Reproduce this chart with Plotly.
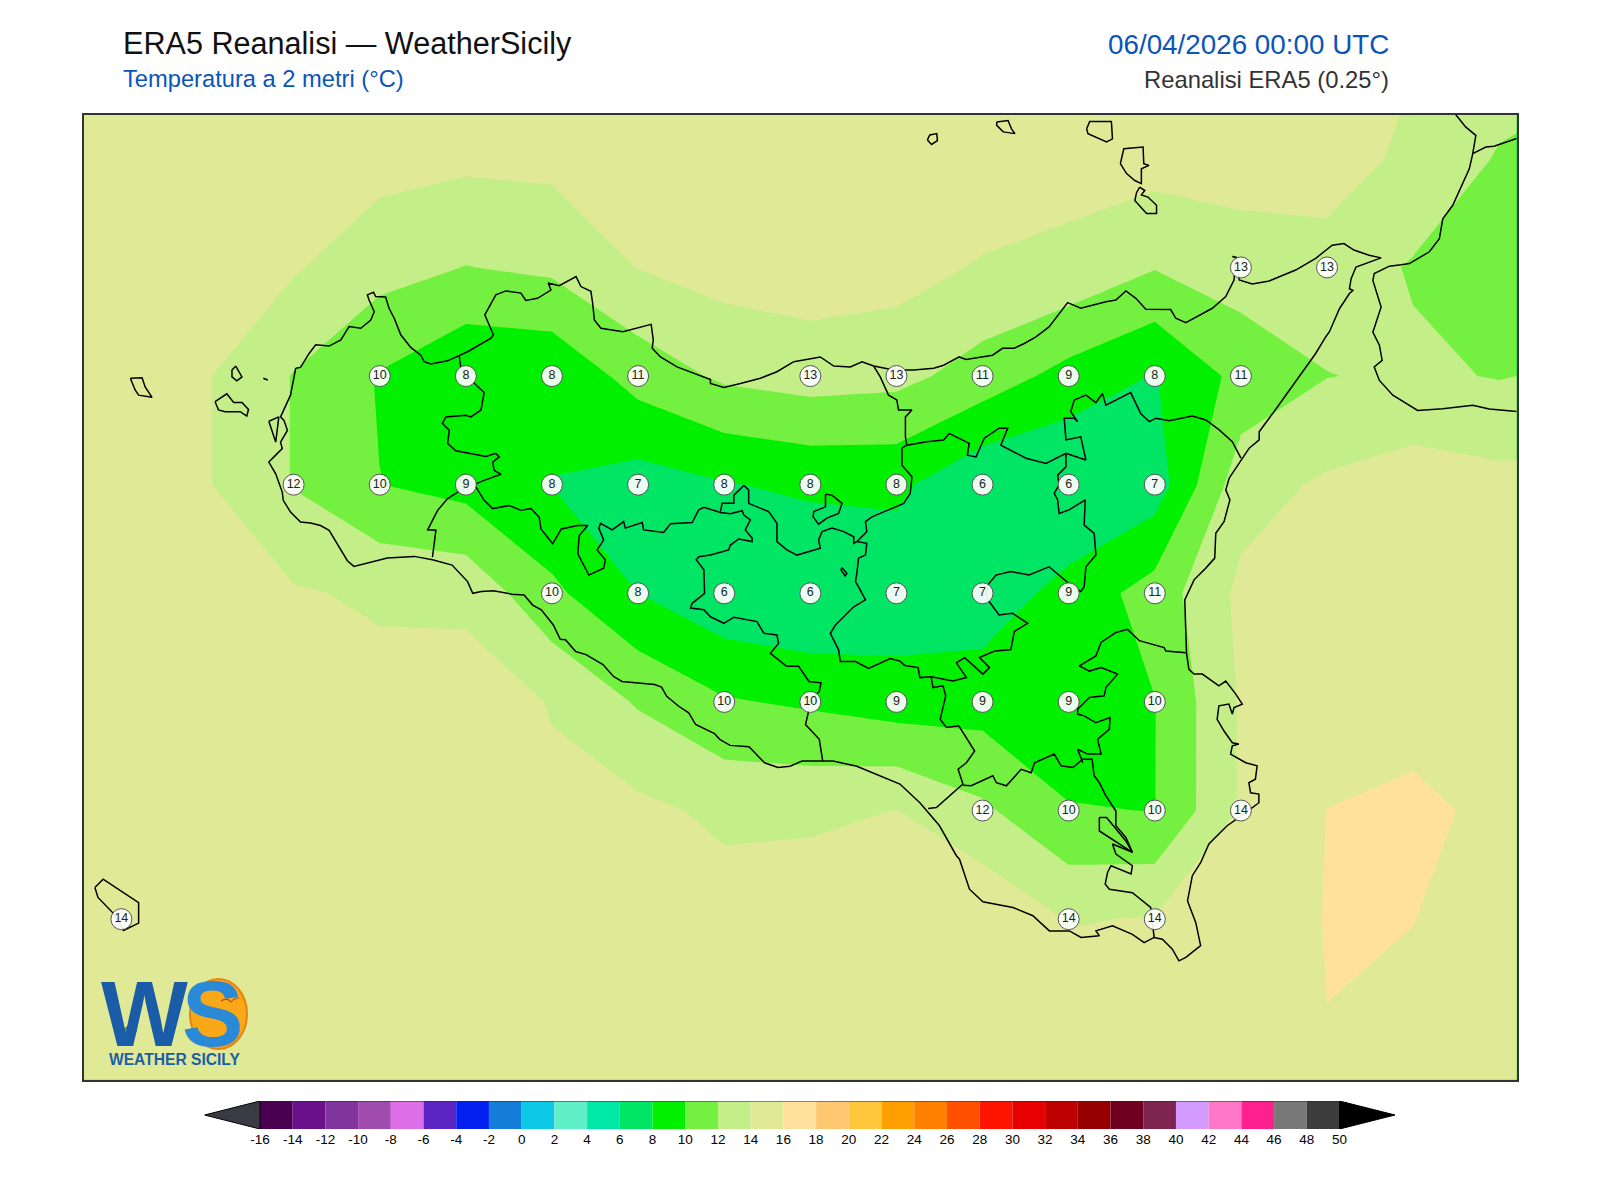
import plotly.graph_objects as go

# ERA5 2m temperature, 0.25 deg grid
lons = [11.75, 12.0, 12.25, 12.5, 12.75, 13.0, 13.25, 13.5, 13.75, 14.0, 14.25, 14.5, 14.75, 15.0, 15.25, 15.5, 15.75, 16.0, 16.25]
lats = [38.75, 38.5, 38.25, 38.0, 37.75, 37.5, 37.25, 37.0, 36.75, 36.5, 36.25]
t2m = [
    [15.5, 15.5, 15.5, 15.4, 15.2, 15.2, 15.4, 15.6, 15.8, 15.8, 15.8, 15.7, 15.5, 15.5, 15.5, 15.4, 14.2, 12.9, 12.4],
    [15.6, 15.4, 15.3, 15.1, 14.7, 14.4, 14.5, 15.3, 15.6, 15.6, 15.6, 15.5, 14.7, 14.8, 14.9, 15.2, 13.4, 11.85, 11.4],
    [15.6, 15.2, 14.8, 14.2, 12.75, 11.95, 12.4, 14.05, 14.8, 15.1, 14.8, 13.8, 13.5, 12.1, 13.0, 13.0, 11.84, 11.4, 11.5],
    [15.5, 15.0, 14.12, 11.9, 9.85, 8.2, 8.34, 10.8, 12.35, 12.86, 12.6, 11.15, 9.3, 7.9, 10.6, 11.95, 12.3, 11.9, 12.4],
    [15.5, 15.0, 14.12, 11.9, 10.03, 9.27, 7.97, 7.13, 7.87, 8.4, 8.46, 6.26, 5.96, 6.9, 13.2, 14.3, 15.0, 14.6, 14.5],
    [15.6, 15.3, 15.0, 14.2, 13.7, 13.5, 10.45, 8.0, 6.45, 5.9, 6.55, 6.8, 8.72, 10.85, 14.45, 15.0, 15.4, 15.0, 15.0],
    [15.6, 15.4, 15.2, 15.1, 14.7, 15.0, 13.9, 11.8, 10.2, 9.7, 9.05, 9.15, 8.9, 9.95, 14.2, 15.0, 15.3, 15.1, 15.0],
    [15.6, 15.4, 15.3, 15.3, 15.3, 15.2, 14.35, 14.47, 13.6, 13.6, 14.03, 12.37, 10.1, 9.97, 14.2, 16.02, 16.4, 15.6, 15.4],
    [15.3, 14.4, 14.8, 15.2, 15.3, 15.4, 15.4, 15.2, 14.85, 15.2, 15.5, 15.7, 13.9, 14.1, 15.2, 16.05, 16.02, 15.4, 15.2],
    [15.3, 15.0, 15.0, 15.3, 15.4, 15.5, 15.5, 15.5, 15.4, 15.5, 15.6, 15.6, 15.1, 15.2, 15.5, 15.985, 15.7, 15.3, 15.2],
    [15.3, 15.2, 15.2, 15.3, 15.4, 15.5, 15.5, 15.5, 15.5, 15.5, 15.6, 15.6, 15.4, 15.4, 15.5, 15.8, 15.6, 15.3, 15.2],
]

# station style labels on land points
label_lons = [15.25, 15.5,
              12.75, 13.0, 13.25, 13.5, 14.0, 14.25, 14.5, 14.75, 15.0, 15.25,
              12.5, 12.75, 13.0, 13.25, 13.5, 13.75, 14.0, 14.25, 14.5, 14.75, 15.0,
              13.25, 13.5, 13.75, 14.0, 14.25, 14.5, 14.75, 15.0,
              13.75, 14.0, 14.25, 14.5, 14.75, 15.0,
              14.5, 14.75, 15.0, 15.25,
              12.0, 14.75, 15.0]
label_lats = [38.25] * 2 + [38.0] * 10 + [37.75] * 11 + [37.5] * 8 + [37.25] * 6 + [37.0] * 4 + [36.75] * 3
label_vals = [13, 13,
              10, 8, 8, 11, 13, 13, 11, 9, 8, 11,
              12, 10, 9, 8, 7, 8, 8, 8, 6, 6, 7,
              10, 8, 6, 6, 7, 7, 9, 11,
              10, 10, 9, 9, 9, 10,
              12, 10, 10, 14,
              14, 14, 14]

levels = list(range(-16, 52, 2))
band_colors = ["#4a0050", "#6a108a", "#80359c", "#a04bae", "#dc6fe8", "#5a25c3", "#0320f0", "#147dd8",
               "#0cc8e6", "#5ff0c8", "#00e8a8", "#00e664", "#00f000", "#74f040", "#c4ee88", "#e0ea96",
               "#ffe19b", "#ffc870", "#ffc83c", "#ffa000", "#ff8000", "#ff5000", "#ff1400", "#e60000",
               "#bd0000", "#960000", "#700020", "#7d2550", "#d39bff", "#ff78c8", "#ff2090", "#787878", "#3c3c3c"]
under_color = "#3a3a44"
over_color = "#000000"
extend_len = 3.39

# coast and province lines (lon, lat)
sicily = [(12.506, 38.018), (12.520, 38.020), (12.545, 38.052), (12.564, 38.072), (12.603, 38.069), (12.637, 38.083), (12.661, 38.114), (12.695, 38.110), (12.724, 38.129), (12.734, 38.148), (12.719, 38.175), (12.714, 38.187), (12.732, 38.193), (12.738, 38.183), (12.767, 38.182), (12.777, 38.156), (12.792, 38.133), (12.811, 38.095), (12.840, 38.066), (12.869, 38.048), (12.879, 38.033), (12.898, 38.028), (12.947, 38.035), (13.005, 38.056), (13.073, 38.087), (13.080, 38.095), (13.055, 38.141), (13.078, 38.172), (13.087, 38.187), (13.116, 38.196), (13.160, 38.191), (13.174, 38.174), (13.208, 38.179), (13.247, 38.198), (13.239, 38.214), (13.271, 38.208), (13.320, 38.229), (13.334, 38.206), (13.363, 38.195), (13.368, 38.168), (13.373, 38.129), (13.392, 38.110),
          (13.456, 38.102), (13.538, 38.119), (13.544, 38.083), (13.541, 38.064), (13.565, 38.044), (13.613, 38.021), (13.662, 38.006), (13.710, 37.992), (13.710, 37.983), (13.749, 37.974), (13.797, 37.983), (13.855, 37.995), (13.903, 38.010), (13.952, 38.033), (14.029, 38.044), (14.068, 38.023), (14.116, 38.021), (14.150, 38.033), (14.184, 38.023), (14.242, 38.014), (14.300, 38.014), (14.358, 38.018), (14.387, 38.025),
          (14.432, 38.044), (14.452, 38.038), (14.529, 38.048), (14.558, 38.064), (14.592, 38.064), (14.621, 38.075), (14.655, 38.090), (14.693, 38.113), (14.747, 38.169), (14.785, 38.156), (14.858, 38.171), (14.887, 38.175), (14.916, 38.196), (14.945, 38.179), (14.974, 38.154), (15.046, 38.153), (15.061, 38.133), (15.090, 38.123), (15.129, 38.140), (15.167, 38.156), (15.206, 38.183), (15.230, 38.221), (15.235, 38.273), (15.225, 38.275), (15.237, 38.273), (15.245, 38.221), (15.283, 38.212), (15.332, 38.219), (15.409, 38.244), (15.467, 38.271), (15.515, 38.301), (15.549, 38.305), (15.578, 38.290), (15.622, 38.278), (15.657, 38.272), (15.584, 38.251), (15.570, 38.224), (15.565, 38.201), (15.575, 38.197), (15.565, 38.190), (15.536, 38.155), (15.507, 38.102),
          (15.496, 38.090), (15.467, 38.052), (15.443, 38.025), (15.399, 37.975), (15.346, 37.918), (15.303, 37.872), (15.303, 37.853), (15.274, 37.834), (15.254, 37.811), (15.216, 37.765), (15.206, 37.738), (15.218, 37.715), (15.201, 37.665), (15.177, 37.638), (15.174, 37.581), (15.148, 37.558), (15.114, 37.531), (15.095, 37.500), (15.087, 37.485), (15.092, 37.363),
          (15.099, 37.325), (15.114, 37.314), (15.138, 37.314), (15.186, 37.287), (15.206, 37.298), (15.235, 37.268), (15.254, 37.245), (15.230, 37.237), (15.225, 37.222), (15.215, 37.245), (15.186, 37.241), (15.181, 37.210), (15.201, 37.183), (15.225, 37.156), (15.244, 37.153), (15.225, 37.149), (15.220, 37.130), (15.264, 37.110), (15.297, 37.103), (15.292, 37.072), (15.273, 37.064), (15.278, 37.041), (15.302, 37.038), (15.302, 37.018), (15.264, 36.995), (15.210, 36.965), (15.157, 36.923), (15.133, 36.880), (15.109, 36.850), (15.095, 36.792), (15.119, 36.742), (15.133, 36.689), (15.090, 36.662), (15.070, 36.654), (15.051, 36.681), (15.022, 36.704), (14.998, 36.708), (14.969, 36.696), (14.935, 36.715), (14.877, 36.735), (14.829, 36.723), (14.839, 36.712), (14.786, 36.708), (14.752, 36.723), (14.694, 36.723), (14.646, 36.758), (14.588, 36.777), (14.501, 36.790), (14.462, 36.819), (14.433, 36.888), (14.424, 36.896), (14.375, 36.965), (14.318, 37.018), (14.260, 37.061),
          (14.225, 37.072), (14.135, 37.102), (14.066, 37.114), (13.976, 37.114), (13.941, 37.102), (13.906, 37.099), (13.867, 37.110), (13.852, 37.122), (13.822, 37.147), (13.767, 37.150), (13.737, 37.164), (13.722, 37.177), (13.667, 37.198), (13.647, 37.225), (13.618, 37.240), (13.583, 37.263), (13.568, 37.284), (13.548, 37.290), (13.478, 37.294), (13.453, 37.297), (13.428, 37.309), (13.398, 37.336), (13.349, 37.359), (13.319, 37.366), (13.289, 37.393), (13.274, 37.394), (13.254, 37.427), (13.219, 37.462), (13.194, 37.473), (13.169, 37.496), (13.134, 37.498), (13.080, 37.506), (13.045, 37.504), (13.020, 37.500), (13.005, 37.527), (12.960, 37.565), (12.903, 37.577),
          (12.850, 37.585), (12.772, 37.581), (12.675, 37.562), (12.656, 37.575), (12.617, 37.629), (12.603, 37.645), (12.578, 37.656), (12.549, 37.662), (12.520, 37.664), (12.491, 37.687), (12.470, 37.714), (12.467, 37.733), (12.448, 37.775), (12.428, 37.802), (12.448, 37.818), (12.467, 37.833), (12.462, 37.848), (12.482, 37.875), (12.472, 37.898), (12.462, 37.906), (12.491, 37.956), (12.499, 37.991), (12.506, 38.018)]
stagnone = [(12.428, 37.896), (12.457, 37.906), (12.448, 37.848), (12.428, 37.896)]
border_trapani = [(12.981, 38.045), (12.985, 38.022), (13.005, 37.998), (13.024, 37.983), (13.053, 37.962), (13.044, 37.922), (13.015, 37.906), (13.000, 37.910), (12.942, 37.906), (12.932, 37.891), (12.952, 37.875), (12.947, 37.845), (12.971, 37.828), (13.058, 37.815), (13.087, 37.822), (13.097, 37.814), (13.078, 37.802), (13.082, 37.783), (13.102, 37.774), (13.053, 37.760), (13.029, 37.752), (13.000, 37.745), (12.947, 37.718), (12.918, 37.691), (12.889, 37.646), (12.913, 37.645), (12.903, 37.583)]
border_agrigento = [(13.029, 37.752), (13.029, 37.745), (13.053, 37.714), (13.078, 37.695), (13.126, 37.702), (13.160, 37.691), (13.189, 37.695), (13.213, 37.675), (13.218, 37.648), (13.252, 37.614), (13.277, 37.648), (13.325, 37.656), (13.354, 37.656), (13.329, 37.633), (13.325, 37.591), (13.357, 37.542), (13.400, 37.558), (13.405, 37.577), (13.381, 37.600), (13.400, 37.623), (13.386, 37.650), (13.391, 37.661), (13.425, 37.646), (13.458, 37.665), (13.463, 37.650), (13.512, 37.663), (13.516, 37.646), (13.574, 37.640), (13.594, 37.660), (13.657, 37.663), (13.676, 37.692), (13.691, 37.698), (13.739, 37.686), (13.768, 37.683), (13.802, 37.690), (13.807, 37.680), (13.826, 37.669), (13.811, 37.646), (13.831, 37.627), (13.831, 37.619), (13.792, 37.625), (13.768, 37.611), (13.763, 37.600), (13.710, 37.588), (13.676, 37.584), (13.669, 37.577), (13.691, 37.554), (13.693, 37.500), (13.657, 37.477), (13.652, 37.466), (13.691, 37.462), (13.710, 37.446), (13.749, 37.431), (13.778, 37.445), (13.845, 37.435), (13.865, 37.408), (13.903, 37.404), (13.908, 37.385), (13.884, 37.362), (13.931, 37.332), (13.966, 37.332), (13.996, 37.297), (14.031, 37.294), (14.026, 37.274), (13.996, 37.252), (13.994, 37.225), (13.986, 37.198), (14.026, 37.164), (14.036, 37.114)]
border_palermo = [(14.184, 38.023), (14.203, 37.998), (14.227, 37.956), (14.251, 37.945), (14.256, 37.922), (14.295, 37.922), (14.276, 37.906), (14.276, 37.860), (14.280, 37.841), (14.266, 37.834), (14.266, 37.795), (14.295, 37.768), (14.290, 37.730), (14.271, 37.707), (14.227, 37.692), (14.179, 37.676), (14.160, 37.665), (14.164, 37.642), (14.135, 37.619), (14.126, 37.615), (14.126, 37.630), (14.097, 37.642), (14.063, 37.650), (14.034, 37.642), (14.024, 37.623), (14.029, 37.604), (13.961, 37.588), (13.932, 37.600), (13.903, 37.619), (13.903, 37.661), (13.879, 37.688), (13.821, 37.707), (13.821, 37.738), (13.807, 37.748), (13.778, 37.726), (13.778, 37.707), (13.744, 37.707), (13.739, 37.688)]
exclave = [(14.044, 37.728), (14.063, 37.726), (14.092, 37.707), (14.082, 37.684), (14.048, 37.673), (14.024, 37.659), (14.008, 37.676), (14.010, 37.688), (14.044, 37.699), (14.044, 37.728)]
pergusa = [(14.092, 37.559), (14.106, 37.546), (14.101, 37.540), (14.089, 37.554), (14.092, 37.559)]
border_enna = [(14.135, 37.619), (14.164, 37.615), (14.160, 37.588), (14.140, 37.581), (14.135, 37.546), (14.131, 37.527), (14.140, 37.515), (14.160, 37.485), (14.126, 37.469), (14.073, 37.427), (14.058, 37.408), (14.082, 37.370), (14.087, 37.343), (14.131, 37.343), (14.169, 37.327), (14.232, 37.350), (14.260, 37.344), (14.274, 37.334), (14.313, 37.329), (14.318, 37.306), (14.351, 37.308), (14.414, 37.298), (14.453, 37.306), (14.424, 37.340), (14.448, 37.352), (14.501, 37.314), (14.520, 37.329), (14.491, 37.352), (14.535, 37.367), (14.582, 37.370), (14.592, 37.412), (14.631, 37.431), (14.587, 37.454), (14.548, 37.450), (14.519, 37.481), (14.510, 37.492), (14.515, 37.519), (14.539, 37.542), (14.582, 37.550), (14.635, 37.542), (14.693, 37.561), (14.747, 37.525), (14.785, 37.504), (14.795, 37.515), (14.800, 37.561), (14.829, 37.588), (14.824, 37.638), (14.795, 37.657), (14.798, 37.715), (14.751, 37.692), (14.722, 37.684), (14.718, 37.715), (14.708, 37.730), (14.722, 37.749), (14.718, 37.772), (14.742, 37.791), (14.742, 37.822)]
border_messina = [(15.250, 37.811), (15.225, 37.849), (15.187, 37.876), (15.148, 37.899), (15.109, 37.908), (15.042, 37.897), (15.003, 37.903), (14.984, 37.895), (14.959, 37.914), (14.930, 37.962), (14.858, 37.933), (14.848, 37.960), (14.829, 37.939), (14.800, 37.956), (14.766, 37.945), (14.756, 37.918), (14.776, 37.895), (14.766, 37.903), (14.737, 37.903), (14.742, 37.853), (14.785, 37.860), (14.800, 37.807), (14.742, 37.822), (14.684, 37.799), (14.626, 37.811), (14.553, 37.841), (14.573, 37.880), (14.548, 37.880), (14.505, 37.857), (14.481, 37.814), (14.456, 37.818), (14.461, 37.845), (14.403, 37.868), (14.387, 37.853), (14.338, 37.849), (14.280, 37.841)]
border_gela = [(14.351, 37.308), (14.356, 37.283), (14.385, 37.287), (14.393, 37.264), (14.377, 37.210), (14.395, 37.191), (14.431, 37.195), (14.477, 37.137), (14.453, 37.110), (14.429, 37.095), (14.443, 37.061), (14.404, 37.034), (14.366, 37.007), (14.342, 37.005)]
border_ragusa = [(14.443, 37.058), (14.467, 37.057), (14.530, 37.080), (14.540, 37.064), (14.569, 37.057), (14.612, 37.095), (14.641, 37.087), (14.651, 37.110), (14.708, 37.130), (14.728, 37.103), (14.762, 37.099), (14.791, 37.118), (14.818, 37.118), (14.824, 37.080), (14.839, 37.064), (14.858, 37.034), (14.887, 36.999), (14.887, 36.965), (14.916, 36.938), (14.935, 36.904), (14.877, 36.923), (14.887, 36.900), (14.935, 36.873), (14.931, 36.854), (14.873, 36.873), (14.863, 36.858), (14.856, 36.831), (14.868, 36.819), (14.935, 36.811), (14.988, 36.777), (14.998, 36.708)]
ragusa_lake = [(14.839, 36.984), (14.860, 36.984), (14.916, 36.930), (14.935, 36.904), (14.839, 36.953), (14.839, 36.984)]
border_siracusa = [(14.791, 37.110), (14.776, 37.141), (14.805, 37.130), (14.844, 37.130), (14.834, 37.164), (14.868, 37.187), (14.870, 37.214), (14.829, 37.202), (14.795, 37.218), (14.776, 37.222), (14.776, 37.233), (14.810, 37.260), (14.853, 37.264), (14.858, 37.283), (14.892, 37.314), (14.844, 37.329), (14.810, 37.321), (14.781, 37.333), (14.829, 37.356), (14.844, 37.387), (14.887, 37.410), (14.921, 37.417), (14.955, 37.391), (15.027, 37.375), (15.032, 37.367), (15.090, 37.363)]
calabria = [(15.865, 38.610), (15.903, 38.573), (15.932, 38.554), (15.923, 38.512), (15.913, 38.477), (15.894, 38.443), (15.865, 38.393), (15.836, 38.362), (15.826, 38.316), (15.797, 38.286), (15.739, 38.259), (15.715, 38.256), (15.681, 38.253), (15.637, 38.236), (15.633, 38.220), (15.657, 38.159), (15.633, 38.101), (15.652, 38.071), (15.660, 38.036), (15.637, 38.021), (15.652, 37.990), (15.691, 37.956), (15.763, 37.921), (15.836, 37.925), (15.923, 37.933), (15.971, 37.924), (16.055, 37.918)]
calabria_branch = [(15.923, 38.512), (15.961, 38.527), (15.985, 38.529), (16.055, 38.548)]
alicudi = [(14.341, 38.546), (14.347, 38.555), (14.367, 38.558), (14.369, 38.542), (14.352, 38.533), (14.341, 38.542), (14.341, 38.546)]
filicudi = [(14.541, 38.585), (14.574, 38.588), (14.584, 38.569), (14.594, 38.558), (14.560, 38.562), (14.541, 38.577), (14.541, 38.585)]
salina = [(14.802, 38.569), (14.811, 38.586), (14.874, 38.586), (14.877, 38.546), (14.860, 38.539), (14.806, 38.558), (14.802, 38.569)]
lipari = [(14.900, 38.489), (14.910, 38.523), (14.966, 38.527), (14.968, 38.489), (14.983, 38.485), (14.961, 38.477), (14.961, 38.443), (14.942, 38.450), (14.918, 38.466), (14.900, 38.489)]
vulcano = [(14.956, 38.435), (14.971, 38.427), (14.961, 38.417), (14.980, 38.412), (15.005, 38.393), (15.005, 38.374), (14.976, 38.374), (14.942, 38.404), (14.947, 38.422), (14.956, 38.435)]
marettimo = [(12.026, 37.995), (12.060, 37.996), (12.069, 37.975), (12.089, 37.951), (12.050, 37.956), (12.040, 37.968), (12.026, 37.995)]
levanzo = [(12.332, 38.023), (12.350, 37.998), (12.335, 37.989), (12.321, 37.998), (12.321, 38.014), (12.332, 38.023)]
favignana = [(12.272, 37.941), (12.306, 37.959), (12.326, 37.939), (12.350, 37.939), (12.369, 37.923), (12.364, 37.908), (12.345, 37.918), (12.301, 37.918), (12.282, 37.922), (12.272, 37.941)]
formica = [(12.412, 37.995), (12.425, 37.991)]
pantelleria = [(11.923, 36.823), (11.947, 36.842), (12.006, 36.811), (12.050, 36.788), (12.050, 36.741), (12.006, 36.724), (11.976, 36.764), (11.932, 36.800), (11.923, 36.823)]

map_lines = [sicily, stagnone, border_trapani, border_agrigento, border_palermo, exclave, pergusa, border_enna,
             border_messina, border_gela, border_ragusa, ragusa_lake, border_siracusa, calabria, calabria_branch,
             alicudi, filicudi, salina, lipari, vulcano, marettimo, levanzo, favignana, formica, pantelleria]

# page keeps the browser's 8px body margin
W, H = 1592, 1192
PAGE_MARGIN = 8


def px(x):
    return (x - PAGE_MARGIN) / W


def py(y):
    return 1 - (y - PAGE_MARGIN) / H


scale = []
for i, c in enumerate(band_colors):
    scale.append([i / len(band_colors), c])
    scale.append([(i + 1) / len(band_colors), c])

fig = go.Figure()
fig.add_trace(go.Contour(x=lons, y=lats, z=t2m, zmin=levels[0], zmax=levels[-1], zauto=False,
                         colorscale=scale, showscale=False, hoverinfo="skip",
                         contours=dict(coloring="fill", start=levels[0], end=levels[-1], size=2, showlines=False),
                         line=dict(width=0, smoothing=0)))

for seg in map_lines:
    fig.add_trace(go.Scatter(x=[p[0] for p in seg], y=[p[1] for p in seg], mode="lines",
                             line=dict(color="black", width=1.5), hoverinfo="skip", showlegend=False))

fig.add_trace(go.Scatter(x=label_lons, y=label_lats, text=[str(v) for v in label_vals],
                         mode="markers+text", textposition="middle center",
                         marker=dict(size=21, color="rgba(255,255,255,0.92)", line=dict(color="#555555", width=1)),
                         textfont=dict(family="Liberation Sans", size=12.5, color="#222222"),
                         hoverinfo="skip", showlegend=False))

# colour bar
fig.add_trace(go.Bar(y=[0] * len(band_colors), x=[2] * len(band_colors), base=levels[:-1], orientation="h",
                     width=1, marker=dict(color=band_colors, line=dict(width=0)),
                     xaxis="x2", yaxis="y2", hoverinfo="skip", showlegend=False))
fig.add_trace(go.Scatter(x=[levels[0], levels[0] - extend_len, levels[0], levels[0]], y=[-0.5, 0, 0.5, -0.5],
                         fill="toself", fillcolor=under_color, mode="lines", line=dict(color="black", width=1),
                         xaxis="x2", yaxis="y2", hoverinfo="skip", showlegend=False))
fig.add_trace(go.Scatter(x=[levels[-1], levels[-1] + extend_len, levels[-1], levels[-1]], y=[-0.5, 0, 0.5, -0.5],
                         fill="toself", fillcolor=over_color, mode="lines", line=dict(color="black", width=1),
                         xaxis="x2", yaxis="y2", hoverinfo="skip", showlegend=False))
fig.add_trace(go.Scatter(x=[levels[0], levels[-1]], y=[0.5, 0.5], mode="lines", line=dict(color="#222222", width=1),
                         xaxis="x2", yaxis="y2", hoverinfo="skip", showlegend=False))

font = "Liberation Sans"
texts = [
    ("ERA5 Reanalisi — WeatherSicily", 121, 43, 30.6, "#111111", "left"),
    ("Temperatura a 2 metri (°C)", 121, 79, 23.7, "#0b55b8", "left"),
    ("06/04/2026 00:00 UTC", 1391, 44, 27.8, "#0b55b8", "right"),
    ("Reanalisi ERA5 (0.25°)", 1391, 79, 23.8, "#333333", "right"),
]
annotations = []
for txt, x, y, size, color, anchor in texts:
    annotations.append(dict(text=txt, x=px(x), y=py(y), xref="paper", yref="paper", showarrow=False,
                            xanchor=anchor, yanchor="middle", font=dict(family=font, size=size, color=color)))

# logo
annotations.append(dict(text="<b>W</b>", x=px(144), y=py(1014), xref="paper", yref="paper", showarrow=False,
                        xanchor="center", yanchor="middle", font=dict(family=font, size=92, color="#1a5ca8")))
annotations.append(dict(text="<b>S</b>", x=px(213), y=py(1014), xref="paper", yref="paper", showarrow=False,
                        xanchor="center", yanchor="middle", font=dict(family=font, size=92, color="#2a8ad8")))
annotations.append(dict(text="<b>WEATHER SICILY</b>", x=px(174), y=py(1059), xref="paper", yref="paper", showarrow=False,
                        xanchor="center", yanchor="middle", font=dict(family=font, size=15.6, color="#1d5ea8")))

logo_shapes = [
    dict(type="circle", xref="paper", yref="paper", x0=px(190), x1=px(247), y0=py(979), y1=py(1049),
         fillcolor="#f9a818", line=dict(color="#e88410", width=2), layer="above"),
    dict(type="path", xref="paper", yref="paper", layer="above", fillcolor="#4fa82e", line=dict(color="#2f8a2a", width=1),
         path=f"M {px(119)} {py(1044)} Q {px(117)} {py(1028)} {px(137)} {py(1022)} Q {px(138)} {py(1040)} {px(123)} {py(1045)} Z"),
    dict(type="path", xref="paper", yref="paper", layer="above", fillcolor="#22c4f0", line=dict(width=0),
         path=f"M {px(117)} {py(1044)} L {px(116)} {py(1022)} L {px(123)} {py(1030)} Z"),
    dict(type="path", xref="paper", yref="paper", layer="above", line=dict(color="#b5501a", width=1.2),
         path=f"M {px(221)} {py(1001)} Q {px(227)} {py(997)} {px(231)} {py(1002)} Q {px(234)} {py(998)} {px(239)} {py(998)}"),
]

fig.update_layout(
    width=W, height=H, margin=dict(l=0, r=0, t=0, b=0), paper_bgcolor="white", plot_bgcolor="white",
    showlegend=False, annotations=annotations, shapes=logo_shapes, barmode="overlay",
    xaxis=dict(domain=[px(83.5), px(1516.5)], range=[11.89, 16.05], showgrid=False, zeroline=False, ticks="",
               showticklabels=False, showline=True, mirror=True, linecolor="#333333", linewidth=1.6),
    yaxis=dict(domain=[py(1079.5), py(114.5)], range=[36.381, 38.602], showgrid=False, zeroline=False, ticks="",
               showticklabels=False, showline=True, mirror=True, linecolor="#333333", linewidth=1.6),
    xaxis2=dict(domain=[px(204.5), px(1395)], range=[levels[0] - extend_len, levels[-1] + extend_len], anchor="y2",
                showgrid=False, zeroline=False, showline=False, ticks="", tickmode="array", tickvals=levels,
                ticktext=[str(v) for v in levels], tickfont=dict(family=font, size=13.5, color="black")),
    yaxis2=dict(domain=[py(1129), py(1101)], range=[-0.5, 0.5], anchor="x2", showgrid=False, zeroline=False,
                showticklabels=False, ticks=""),
)

fig.write_html("out.html")
